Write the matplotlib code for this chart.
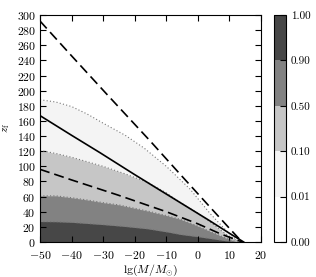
import numpy as np
import matplotlib
matplotlib.use("Agg")
import matplotlib.pyplot as plt
from matplotlib.colors import ListedColormap, BoundaryNorm
from matplotlib.cm import ScalarMappable

plt.rcParams['font.family'] = 'serif'
plt.rcParams['font.serif'] = ['cmr10', 'DejaVu Serif']
plt.rcParams['mathtext.fontset'] = 'cm'
plt.rcParams['axes.formatter.use_mathtext'] = True

# contour boundaries (probability levels)
x_p001 = [-50, -45, -40, -35, -30, -23, -17, -10, -2.5, 4, 9, 13]
y_p001 = [188, 185, 179, 169, 157, 141, 124, 100, 70, 37, 15, 0]
x_p01 = [-50, -45, -40, -35, -30, -23, -16, -10, -5.5, 0, 5, 9, 13]
y_p01 = [121, 117, 112, 106, 100, 90, 79, 65, 52, 38, 23, 10, 0]
x_p05 = [-50, -45, -40, -35, -30, -25, -16, -10, -5.5, 0, 5, 9, 12.5]
y_p05 = [61, 61, 58.5, 55.5, 52, 49, 41, 35, 30, 21, 12, 5, 0]
x_p09 = [-50, -45, -40, -35, -30, -23, -16, -10, -5.5, 0, 5, 9, 12]
y_p09 = [27, 26.8, 26, 24.5, 23, 20.5, 17.5, 13.5, 10, 7, 4, 1.5, 0]

# lines
x_dash_hi = [-50, -40, -29, -15, -5.5, 3, 10, 14]
y_dash_hi = [292, 246, 196, 133, 89, 50, 18, 0]
x_solid = [-50, -40, -31, -20, -8.3, 3, 10, 14.5]
y_solid = [167, 141, 118, 89, 59, 30, 11.5, 0]
x_dash_lo = [-50, -40, -25.3, -10, 0, 7, 14]
y_dash_lo = [96, 82, 62, 40, 24, 11, 0]

levels = [0.0, 0.01, 0.1, 0.5, 0.9, 1.0]
level_labels = ['0.00', '0.01', '0.10', '0.50', '0.90', '1.00']
band_colors = ['#ffffff', '#f4f4f4', '#c6c6c6', '#828282', '#474747']

fig = plt.figure(figsize=(3.16, 2.77), dpi=100)
ax = fig.add_axes([0.1266, 0.1264, 0.6994, 0.8195])
cax = fig.add_axes([0.867, 0.1264, 0.038, 0.8195])

bounds = [(x_p001, y_p001), (x_p01, y_p01), (x_p05, y_p05), (x_p09, y_p09)]
for (bx, by), col in zip(bounds, band_colors[1:]):
    ax.fill_between(bx, by, 0, color=col, lw=0, zorder=1)
    ax.plot(bx, by, ls=(0, (1, 2)), color='#777777', lw=0.8, zorder=2)

ax.plot(x_dash_hi, y_dash_hi, color='k', ls=(0, (6, 3)), lw=1.2, zorder=3)
ax.plot(x_solid, y_solid, color='k', ls='-', lw=1.2, zorder=3)
ax.plot(x_dash_lo, y_dash_lo, color='k', ls=(0, (6, 3)), lw=1.2, zorder=3)

ax.set_xlim(-50, 20)
ax.set_ylim(0, 300)
ax.set_xticks(np.arange(-50, 21, 10))
ax.set_yticks(np.arange(0, 301, 20))
ax.tick_params(direction='in', top=True, right=True, labelsize=8.5, length=4, width=0.8)
ax.tick_params(axis='x', pad=5)
ax.tick_params(axis='y', pad=3)
ax.set_xlabel(r'$\lg(M/M_{\odot})$', fontsize=8.5, labelpad=1)
ax.set_ylabel(r'$z_{\rm f}$', fontsize=8, labelpad=3)

cmap = ListedColormap(band_colors)
norm = BoundaryNorm(levels, cmap.N)
sm = ScalarMappable(norm=norm, cmap=cmap)
cb = fig.colorbar(sm, cax=cax, ticks=levels, spacing='uniform')
cb.ax.set_yticklabels(level_labels)
cb.ax.tick_params(direction='in', labelsize=8, length=4, width=0.8)
cb.outline.set_linewidth(0.8)

fig.savefig('out.png', dpi=100)
